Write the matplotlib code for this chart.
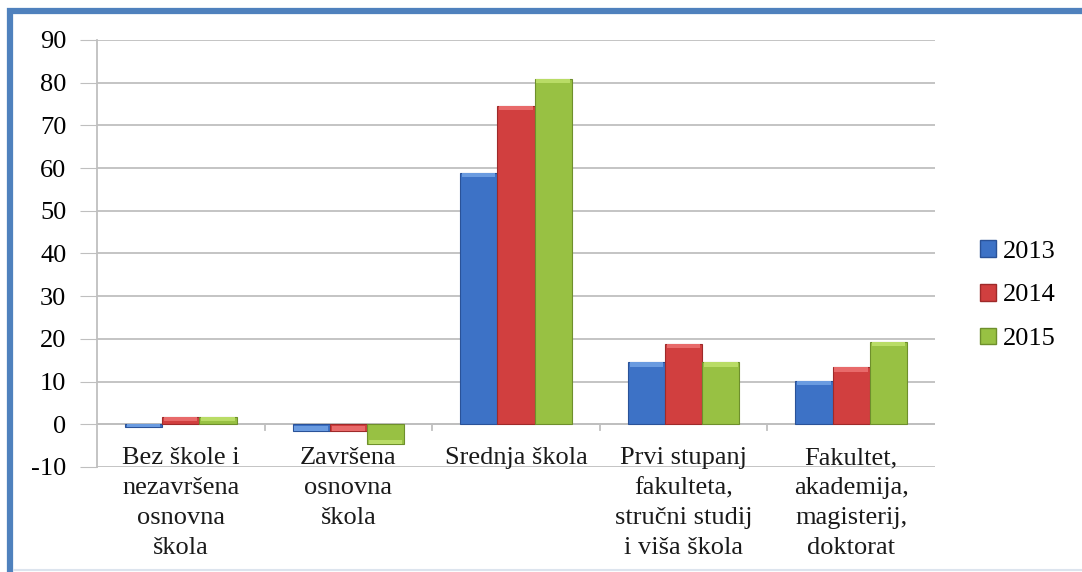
import numpy as np
import matplotlib.pyplot as plt
from matplotlib.lines import Line2D
from matplotlib.patches import Patch

# categories and values
categories = [
    "Bez škole i\nnezavršena\nosnovna\nškola",
    "Završena\nosnovna\nškola",
    "Srednja škola",
    "Prvi stupanj\nfakulteta,\nstručni studij\ni viša škola",
    "Fakultet,\nakademija,\nmagisterij,\ndoktorat",
]
years = ["2013", "2014", "2015"]
v2013 = [-0.7, -1.5, 58.9, 14.5, 10.1]
v2014 = [1.8, -1.5, 74.6, 18.8, 13.3]
v2015 = [1.8, -4.6, 80.9, 14.5, 19.3]
colors = ["#3D72C6", "#D13F3F", "#98C143"]
tops = ["#6A9BE0", "#E86A6A", "#B9DC66"]
edges = ["#2A5298", "#9E2A2A", "#6E8F2C"]

plt.rcParams['font.family'] = ['Liberation Serif', 'DejaVu Serif']
plt.rcParams['axes.unicode_minus'] = False

fig = plt.figure(figsize=(10.82, 5.72), dpi=100)
ax = fig.add_axes([0.0896, 0.1836, 0.7745, 0.7465])

# frame: thick blue on left and top, faint line at the bottom
fig.add_artist(Line2D([0.0092, 0.0092, 1.0], [0.0, 0.9815, 0.9815], transform=fig.transFigure,
                      color="#4F81BD", linewidth=4.5, solid_joinstyle="miter"))
fig.add_artist(Line2D([0.0125, 1.0], [0.003, 0.003], transform=fig.transFigure,
                      color="#DCE4EE", linewidth=1.5))

x = np.arange(len(categories))
w = 0.222
series = [v2013, v2014, v2015]
for i, vals in enumerate(series):
    vals = np.array(vals)
    ax.bar(x + (i - 1) * w, vals, w, color=colors[i], edgecolor=edges[i],
           linewidth=0.8, zorder=3)
    # lighter bevel at the end of each bar
    strip = np.sign(vals) * np.minimum(np.abs(vals), 1.0)
    ax.bar(x + (i - 1) * w, strip, w * 0.9, bottom=vals - strip, color=tops[i],
           linewidth=0, zorder=4)

ax.set_xlim(-0.5, len(categories) - 0.5)
ax.set_ylim(-10, 90)
ax.set_yticks(range(-10, 91, 10))
ax.tick_params(axis='y', labelsize=19, length=12, color="#BFBFBF", pad=10)
ax.yaxis.grid(True, color="#BFBFBF", linewidth=1.3, zorder=0)
for s in ["top", "right", "bottom"]:
    ax.spines[s].set_visible(False)
ax.spines["left"].set_color("#BFBFBF")
ax.spines["left"].set_linewidth(1.3)

# x axis at zero with category ticks at the boundaries
ax.axhline(0, color="#BFBFBF", linewidth=1.3, zorder=2)
ax.set_xticks([])
for b in np.arange(0.5, len(categories) - 0.5, 1):
    ax.plot([b, b], [0, -1.4], color="#BFBFBF", linewidth=1.3, zorder=2, clip_on=False)
for xi, lab in zip(x, categories):
    ax.annotate(lab, xy=(xi, 0), xytext=(0, -23), textcoords="offset pixels",
                ha="center", va="top", fontsize=19, linespacing=1.46,
                color="#1a1a1a", annotation_clip=False)

handles = [Patch(facecolor=colors[i], edgecolor=edges[i], label=years[i]) for i in range(3)]
fig.legend(handles=handles, loc="center left", bbox_to_anchor=(0.884, 0.484),
           frameon=False, fontsize=19, handlelength=0.6, handleheight=0.6,
           handletextpad=0.25, labelspacing=0.8)

fig.savefig("out.png", dpi=100)
